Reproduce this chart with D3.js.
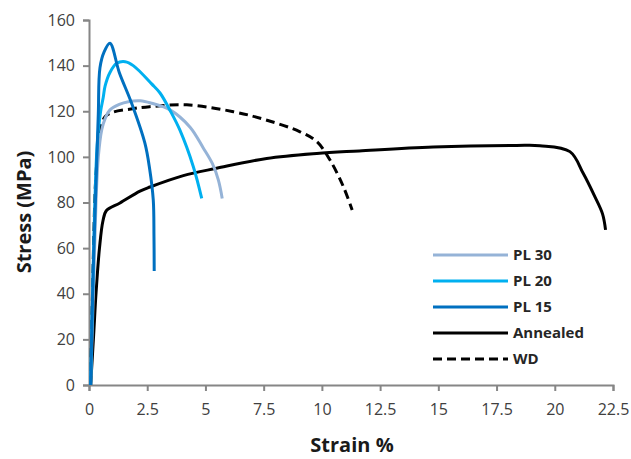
<!DOCTYPE html>
<html>
<head>
<meta charset="utf-8">
<script src="https://cdn.jsdelivr.net/npm/d3@7"></script>
<style>
  body { margin: 0; background: #fff; }
  text { font-family: "Open Sans", sans-serif; }
</style>
</head>
<body>
<div id="chart"></div>
<script>
// data (strain %, stress MPa)
const pl30 = [[0.07,0],[0.2,45],[0.3,80],[0.4,100],[0.55,112],[0.7,117],[0.9,120.6],[1.3,123],[1.69,124.2],[2.2,124.6],[2.69,123.5],[3.48,120.6],[4.34,113],[4.9,104],[5.3,97],[5.55,90],[5.72,81.8]];
const pl20 = [[0.07,0],[0.2,60],[0.35,105],[0.5,120],[0.61,126],[0.69,131],[0.9,137],[1.19,141],[1.55,141.7],[1.9,140],[2.69,132],[3.05,128],[3.5,120],[3.9,111.8],[4.48,95.7],[4.84,81.8]];
const pl15 = [[0.07,0],[0.18,50],[0.33,97],[0.4,119],[0.47,139],[0.65,146],[0.9,149.8],[1.3,137],[1.83,123.5],[2.4,106],[2.6,95],[2.76,81],[2.79,65],[2.8,50]];
const annealed = [[0.07,0],[0.2,22],[0.3,40],[0.45,60],[0.6,72],[0.75,76.5],[1.33,79.8],[2.19,85],[2.62,86.8],[4.05,91.8],[5.48,95],[7.63,99.3],[9.78,101.5],[11.6,102.6],[14.78,104.3],[18.36,105],[19.36,104.9],[20.65,102.3],[21.22,92.8],[21.7,83],[22.05,75],[22.18,68]];
const wd = [[0.07,0],[0.15,40],[0.26,84],[0.33,97],[0.47,111.8],[0.69,117.6],[1.0,119.5],[1.8,121],[2.6,122],[4.2,122.8],[6.2,119.8],[7.6,116.2],[9.06,111],[9.78,106.7],[10.35,98.6],[10.92,87],[11.3,76.7]];

const seriesNames = ["PL 30", "PL 20", "PL 15", "Annealed", "WD"];
const seriesData = [pl30, pl20, pl15, annealed, wd];
const seriesColors = ["#95b3d7", "#00b0f0", "#0070c0", "#000000", "#000000"];
const seriesDash = [null, null, null, null, "9,5"];

const xTicks = [0, 2.5, 5, 7.5, 10, 12.5, 15, 17.5, 20, 22.5];
const yTicks = [0, 20, 40, 60, 80, 100, 120, 140, 160];

const W = 631, H = 459;
const margin = {left: 89, right: 18, top: 20, bottom: 74};

const svg = d3.select("#chart").append("svg")
  .attr("width", W)
  .attr("height", H);

const x = d3.scaleLinear().domain([0, 22.5]).range([margin.left, W - margin.right]);
const y = d3.scaleLinear().domain([0, 160]).range([H - margin.bottom, margin.top]);

// axes
const xAxis = svg.append("g")
  .attr("transform", `translate(0,${y(0)})`)
  .call(d3.axisBottom(x).tickValues(xTicks).tickSize(6).tickPadding(13).tickFormat(d3.format("")));
const yAxis = svg.append("g")
  .attr("transform", `translate(${x(0)},0)`)
  .call(d3.axisLeft(y).tickValues(yTicks).tickSize(6).tickPadding(8));

[xAxis, yAxis].forEach(a => {
  a.select(".domain").attr("stroke", "#868686").attr("stroke-width", 2);
  a.selectAll(".tick line").attr("stroke", "#868686").attr("stroke-width", 2);
  a.selectAll(".tick text").attr("fill", "#404040").style("font-size", "16px");
});

// curves
const line = d3.line()
  .x(d => x(d[0]))
  .y(d => y(d[1]))
  .curve(d3.curveCatmullRom.alpha(0.5));

// black lines under the blues
const order = [3, 4, 0, 1, 2];
order.forEach(i => {
  svg.append("path")
    .datum(seriesData[i])
    .attr("fill", "none")
    .attr("stroke", seriesColors[i])
    .attr("stroke-width", 3)
    .attr("stroke-dasharray", seriesDash[i])
    .attr("stroke-linejoin", "round")
    .attr("d", line);
});

// axis titles
svg.append("text")
  .attr("x", 352).attr("y", 452)
  .attr("text-anchor", "middle")
  .style("font-size", "20px").style("font-weight", "bold")
  .attr("fill", "#1a1a1a")
  .text("Strain %");

svg.append("text")
  .attr("transform", "translate(31,212) rotate(-90)")
  .attr("text-anchor", "middle")
  .style("font-size", "20px").style("font-weight", "bold")
  .attr("fill", "#1a1a1a")
  .text("Stress (MPa)");

// legend
const legend = svg.append("g").attr("transform", "translate(433,255)");
seriesNames.forEach((name, i) => {
  const g = legend.append("g").attr("transform", `translate(0,${i * 26})`);
  g.append("line")
    .attr("x1", 0).attr("x2", 75)
    .attr("stroke", seriesColors[i])
    .attr("stroke-width", 3)
    .attr("stroke-dasharray", seriesDash[i]);
  g.append("text")
    .attr("x", 80).attr("y", 5)
    .style("font-size", "15px").style("font-weight", "bold")
    .attr("fill", "#262626")
    .text(name);
});
</script>
</body>
</html>
